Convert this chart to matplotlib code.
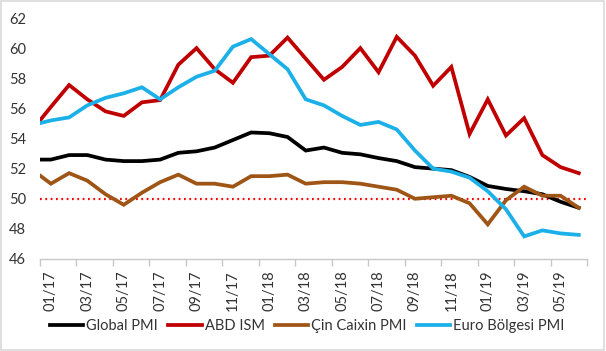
import matplotlib
matplotlib.use("Agg")
import matplotlib.pyplot as plt
from matplotlib.patches import Rectangle

plt.rcParams['font.family'] = ['Lato', 'DejaVu Sans']

months = ["12/16", "01/17", "02/17", "03/17", "04/17", "05/17", "06/17", "07/17", "08/17",
          "09/17", "10/17", "11/17", "12/17", "01/18", "02/18", "03/18", "04/18", "05/18",
          "06/18", "07/18", "08/18", "09/18", "10/18", "11/18", "12/18", "01/19", "02/19",
          "03/19", "04/19", "05/19", "06/19"]
global_pmi = [52.6, 52.6, 52.9, 52.9, 52.6, 52.5, 52.5, 52.6, 53.05, 53.15, 53.4, 53.9, 54.4,
              54.35, 54.1, 53.2, 53.4, 53.05, 52.95, 52.7, 52.5, 52.1, 52.0, 51.9, 51.45,
              50.85, 50.65, 50.5, 50.3, 49.8, 49.4]
abd_ism = [54.6, 56.1, 57.55, 56.6, 55.8, 55.5, 56.4, 56.55, 58.9, 60.0, 58.6, 57.7, 59.4,
           59.5, 60.7, 59.3, 57.9, 58.75, 60.0, 58.4, 60.75, 59.5, 57.5, 58.75, 54.3, 56.6,
           54.2, 55.35, 52.9, 52.1, 51.7]
cin_caixin = [51.9, 51.0, 51.7, 51.2, 50.3, 49.6, 50.4, 51.1, 51.6, 51.0, 51.0, 50.8, 51.5,
              51.5, 51.6, 51.0, 51.1, 51.1, 51.0, 50.8, 50.6, 50.0, 50.1, 50.2, 49.7, 48.3,
              49.9, 50.8, 50.2, 50.2, 49.4]
euro_pmi = [54.9, 55.2, 55.4, 56.2, 56.7, 57.0, 57.4, 56.6, 57.4, 58.1, 58.5, 60.1, 60.6,
            59.6, 58.6, 56.6, 56.2, 55.5, 54.9, 55.1, 54.6, 53.2, 52.0, 51.8, 51.4, 50.5,
            49.3, 47.5, 47.9, 47.7, 47.6]
threshold = 50
series_names = ["Global PMI", "ABD ISM", "Çin Caixin PMI", "Euro Bölgesi PMI"]
colors = ["#000000", "#C00000", "#9E5515", "#1CB0E8"]

x = list(range(-1, len(months) - 1))

fig = plt.figure(figsize=(6.06, 3.51), dpi=100)
ax = fig.add_axes([40 / 606, 1 - 259 / 351, (587 - 40) / 606, (259 - 18) / 351])

ax.axhline(threshold, color="#FF0000", lw=1.6, ls=(0, (0.8, 1.6)), zorder=1)
for vals, name, c in zip([global_pmi, abd_ism, cin_caixin, euro_pmi], series_names, colors):
    ax.plot(x, vals, color=c, lw=2.7, label=name, solid_joinstyle="miter", zorder=2)

ax.set_xlim(-0.6, 29.45)
ax.set_ylim(46, 62)
ax.set_yticks(range(46, 63, 2))
ax.tick_params(axis="y", length=0, pad=10, labelsize=10.5, labelcolor="#333333")

major = [-0.6 + 2.0035 * j for j in range(16)]
ax.set_xticks(major)
ax.set_xticklabels([])
ax.tick_params(axis="x", which="major", length=5, color="#C8C8C8", width=1)
lab_pos = [k for k in x if k >= 0 and k % 2 == 0]
ax.set_xticks(lab_pos, minor=True)
ax.set_xticklabels([months[k + 1] for k in lab_pos], minor=True, rotation=90)
ax.tick_params(axis="x", which="minor", length=0, pad=8, labelsize=10.5, labelcolor="#333333")

for s in ["left", "right", "top"]:
    ax.spines[s].set_visible(False)
ax.spines["bottom"].set_color("#C8C8C8")
ax.spines["bottom"].set_linewidth(1)

fig.legend(loc="center", bbox_to_anchor=(0.507, 1 - 326 / 351), ncol=4, frameon=False,
           fontsize=10.5, handlelength=2.3, handletextpad=0.2, columnspacing=0.7,
           labelcolor="#333333")

fig.patches.append(Rectangle((0.002, 0.003), 0.995, 0.993, transform=fig.transFigure,
                             fill=False, edgecolor="#D9D9D9", lw=1.2))

fig.savefig("out.png", dpi=100)
